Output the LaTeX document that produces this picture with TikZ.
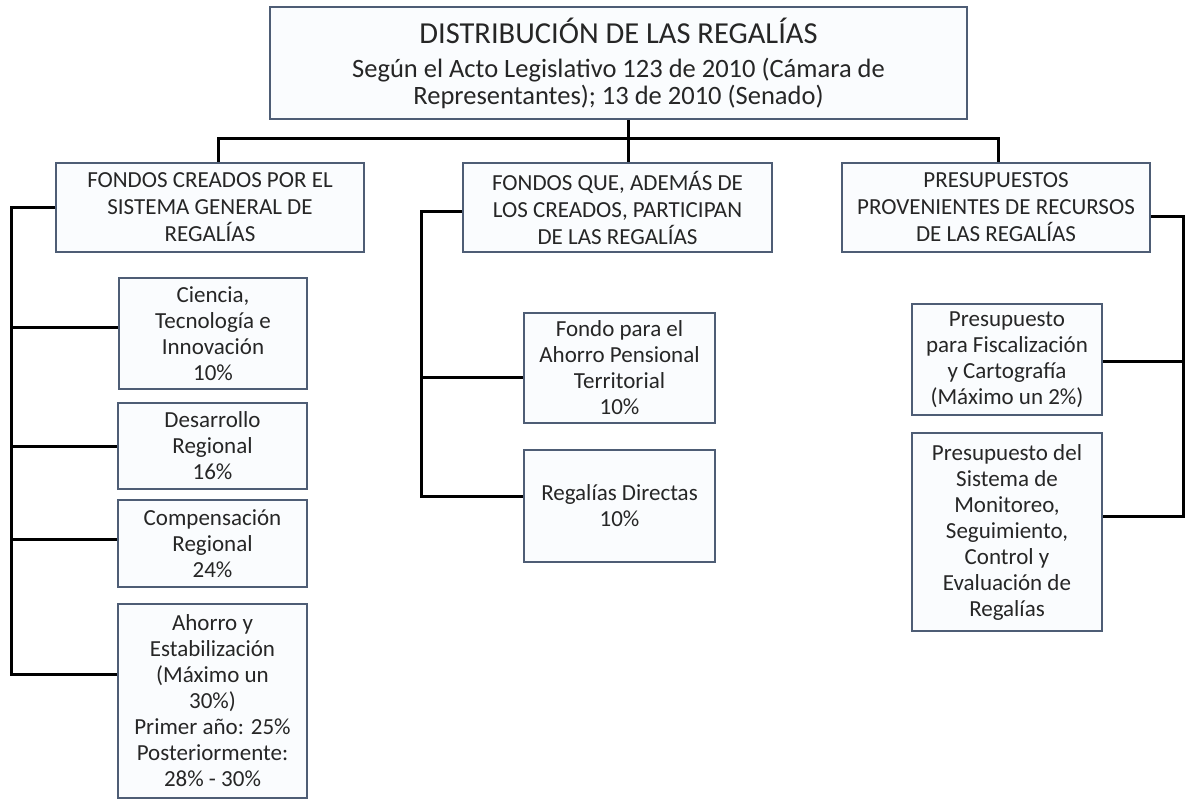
\documentclass[tikz,border=0pt]{standalone}
\usepackage{fontspec}
\setmainfont{Carlito}
\usetikzlibrary{positioning}

\definecolor{boxline}{HTML}{4E5D75}
\definecolor{boxfill}{HTML}{FAFCFE}
\definecolor{txt}{HTML}{262626}

\tikzset{
  box/.style={draw=boxline,line width=2.4pt,fill=boxfill,text=txt,align=center,
    inner sep=2pt,font=\fontsize{23}{26}\selectfont},
  head/.style={box,font=\fontsize{23}{27}\selectfont},
  link/.style={line width=3pt,black},
}

\begin{document}
\begin{tikzpicture}[x=1pt,y=-1pt]
\useasboundingbox[fill=white] (0,0) rectangle (1185,801);

\node[box,minimum width=697pt,minimum height=112pt,font=\fontsize{26.5}{26.5}\selectfont] (top) at (618.5,63)
 {{\fontsize{30.5}{35}\selectfont DISTRIBUCIÓN DE LAS REGALÍAS}\\[8pt]
  Según el Acto Legislativo 123 de 2010 (Cámara de\\
  Representantes); 13 de 2010 (Senado)};

\node[head,minimum width=308pt,minimum height=89pt] (fondos) at (210,207.5)
 {FONDOS CREADOS POR EL\\SISTEMA GENERAL DE\\REGALÍAS};
\node[head,minimum width=309pt,minimum height=89pt] (otros) at (617.5,207.5)
 {FONDOS QUE, ADEMÁS DE\\LOS CREADOS, PARTICIPAN\\DE LAS REGALÍAS};
\node[head,minimum width=308pt,minimum height=89pt] (presup) at (996,207.5)
 {PRESUPUESTOS\\PROVENIENTES DE RECURSOS\\DE LAS REGALÍAS};

\node[box,minimum width=188pt,minimum height=111pt] (ciencia) at (213,333.5)
 {Ciencia,\\Tecnología e\\Innovación\\10\%};
\node[box,minimum width=189pt,minimum height=86pt] (desarrollo) at (212.5,446)
 {Desarrollo\\Regional\\16\%};
\node[box,minimum width=189pt,minimum height=87pt] (compensa) at (212.5,543.5)
 {Compensación\\Regional\\24\%};
\node[box,minimum width=189pt,minimum height=194pt] (ahorro) at (212.5,701)
 {Ahorro y\\Estabilización\\(Máximo un\\30\%)\\Primer año: 25\%\\Posteriormente:\\28\% - 30\%};

\node[box,minimum width=191pt,minimum height=110pt] (pension) at (619.5,368)
 {Fondo para el\\Ahorro Pensional\\Territorial\\10\%};
\node[box,minimum width=191pt,minimum height=112pt] (directas) at (619.5,506)
 {Regalías Directas\\10\%};

\node[box,minimum width=190pt,minimum height=111pt] (fiscal) at (1007,359.5)
 {Presupuesto\\para Fiscalización\\y Cartografía\\(Máximo un 2\%)};
\node[box,minimum width=190pt,minimum height=198pt] (monitoreo) at (1007,532)
 {Presupuesto del\\Sistema de\\Monitoreo,\\Seguimiento,\\Control y\\Evaluación de\\Regalías};

% ramas principales
\coordinate (hub) at (628,138);
\coordinate (bl) at (218,138);
\coordinate (br) at (998,138);
\draw[link] (top.south -| hub) -- (otros.north -| hub);
\draw[link] (fondos.north -| bl) -- (bl) -- (br) -- (presup.north -| br);

% fondos creados
\coordinate (lbus) at (11,0);
\coordinate (c1) at ([yshift=6pt]ciencia.west);
\coordinate (c3) at ([yshift=4pt]compensa.west);
\coordinate (c4) at ([yshift=27pt]ahorro.west);
\draw[link] (fondos.west) -- (fondos.west -| lbus) -- (c4 -| lbus) -- (c4);
\draw[link] (c1 -| lbus) -- (c1);
\draw[link] (desarrollo.west -| lbus) -- (desarrollo.west);
\draw[link] (c3 -| lbus) -- (c3);

% otros fondos
\coordinate (mbus) at (421,0);
\coordinate (m1) at ([yshift=-4pt]otros.west);
\coordinate (m2) at ([yshift=-9pt]pension.west);
\coordinate (m3) at ([yshift=10pt]directas.west);
\draw[link] (m1) -- (m1 -| mbus) -- (m3 -| mbus) -- (m3);
\draw[link] (m2 -| mbus) -- (m2);

% presupuestos
\coordinate (rbus) at (1183.5,0);
\coordinate (r1) at ([yshift=-9pt]presup.east);
\coordinate (r2) at ([yshift=-2pt]fiscal.east);
\coordinate (r3) at ([yshift=16pt]monitoreo.east);
\draw[link] (r1) -- (r1 -| rbus) -- (r3 -| rbus) -- (r3);
\draw[link] (r2) -- (r2 -| rbus);
\end{tikzpicture}
\end{document}
